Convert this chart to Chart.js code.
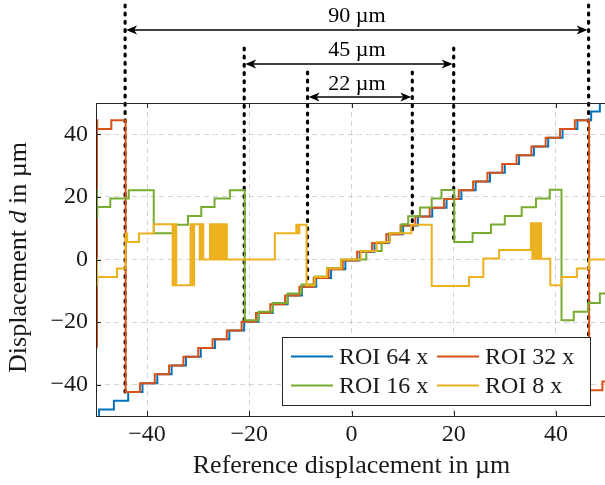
<!DOCTYPE html>
<html>
<head>
<meta charset="utf-8">
<script src="https://cdn.jsdelivr.net/npm/chart.js@4.4.1/dist/chart.umd.min.js"></script>
<style>
  html, body { margin: 0; padding: 0; background: #fff; overflow: hidden; }
  #wrap { width: 605px; height: 485px; overflow: hidden; }
</style>
</head>
<body>
<div id="wrap"><canvas id="chart" width="607" height="485"></canvas></div>
<script>
const seriesNames = ['ROI 64 x', 'ROI 32 x', 'ROI 16 x', 'ROI 8 x'];
const seriesColors = ['#0072BD', '#D95319', '#77AC30', '#EDB120'];

const roi64X = [-50, -49.4, -46.5,
  -43.7, -40.9, -38.0, -35.2, -32.4, -29.5, -26.7, -23.9, -21.0, -18.2,
  -15.4, -12.5, -9.7, -6.9, -4.0, -1.2, 1.6, 4.5, 7.3, 10.1,
  13.0, 15.8, 18.6, 21.5, 24.3, 27.1, 30.0, 32.8, 35.7, 38.5,
  41.3, 44.2, 46.9, 48.6, 50];
const roi64Y = [-50.7, -47.9, -45.1,
  -42.3, -39.5, -36.7, -33.9, -31.1, -28.3, -25.5, -22.7, -19.9, -17.1,
  -14.3, -11.5, -8.7, -5.9, -3.1, -0.3, 2.5, 5.3, 8.1, 10.9,
  13.7, 16.5, 19.3, 22.1, 24.9, 27.7, 30.5, 33.3, 36.1, 38.9,
  41.7, 44.5, 47.3, 50.1, 50.1];

const roi32X = [-49.85, -49.8, -49.75, -47.0,
  -44.2, -41.4, -38.5, -35.7, -32.9, -30.0, -27.2, -24.4, -21.5, -18.7,
  -15.9, -13.0, -10.2, -7.4, -4.5, -1.7, 1.1, 4.0, 6.8, 9.6,
  12.5, 15.3, 18.1, 21.0, 23.8, 26.6, 29.5, 32.3, 35.2, 38.0,
  40.8, 43.7, 46.5, 49.1, 50];
const roi32Y = [-28.0, 44.5, 41.7, 44.5,
  -42.3, -39.5, -36.7, -33.9, -31.1, -28.3, -25.5, -22.7, -19.9, -17.1,
  -14.3, -11.5, -8.7, -5.9, -3.1, -0.3, 2.5, 5.3, 8.1, 10.9,
  13.7, 16.5, 19.3, 22.1, 24.9, 27.7, 30.5, 33.3, 36.1, 38.9,
  41.7, 44.5, -41.8, -39.0, -39.0];

const roi16X = [-49.85, -49.8, -49.75, -47.2, -43.6, -38.7, -34.8, -32.0, -29.4, -26.8, -23.8,
  -20.9, -18.2, -15.4, -12.5, -9.8, -7.2, -4.8, -2.0, 2.9, 5.9, 7.5, 9.8, 11.1, 13.4, 15.7, 17.6,
  20.1, 23.7, 27.3, 30.0, 33.3, 36.1, 38.8, 41.1, 43.5, 46.3, 48.6, 50];
const roi16Y = [22.1, 13.6, 16.8, 19.5, 22.1, 8.4, 11.1, 13.9, 16.8, 19.5, 22.1,
  -19.4, -16.7, -13.9, -10.9, -8.0, -5.4, -2.7, 0.0, 2.7, 5.6, 8.5, 11.3, 13.8, 16.6, 19.5, 22.2,
  5.6, 8.5, 11.2, 13.9, 16.7, 19.5, 22.3, -19.4, -16.7, -13.9, -10.9, -10.9];

const roi8X = [-49.85, -49.8, -49.75, -45.9, -44.2, -43.9, -41.6, -38.7,
  -35.0, -34.6, -34.3, -31.5, -31.1, -30.8, -29.7, -29.4, -29.0,
  -27.7, -27.4, -27.1, -26.8, -26.5, -26.2, -25.9, -25.6, -25.3, -25.0, -24.7, -24.4,
  -15.0, -10.8, -10.5, -10.2, -8.8, -7.2, -4.8, -2.0, 1.8, 4.9, 7.5, 11.7, 15.7,
  23.0, 25.8, 28.9, 35.1, 35.4, 35.7, 36.0, 36.3, 36.6, 36.9, 37.1, 38.9, 41.1, 44.1, 46.5, 50];
const roi8Y = [0.0, -8.2, -5.6, -2.9, 8.3, 5.6, 8.3, 11.3,
  -8.2, 11.3, -8.2, 11.3, -8.2, 11.3, 0.0, 11.3, 0.0,
  11.3, 0.0, 11.3, 0.0, 11.3, 0.0, 11.3, 0.0, 11.3, 0.0, 11.3, 0.0,
  8.4, 11.1, 8.4, 11.1, -8.2, -5.6, -2.9, 0.0, 2.7, 5.6, 8.4, 11.1, -8.5,
  -5.6, 0.3, 3.0, 11.6, 0.2, 11.6, 0.2, 11.6, 0.2, 11.6, 0.2, -8.2, -5.6, -2.9, 0.0, 0.0];

const xTicks = [-40, -20, 0, 20, 40];
const yTicks = [-40, -20, 0, 20, 40];

// span annotations (window widths)
const spanLabels = ['90 \u00b5m', '45 \u00b5m', '22 \u00b5m'];
const spanFrom = [-44.3, -21.0, -8.6];
const spanTo = [46.4, 20.0, 11.9];
const spanFromEnd = [-42.3, -19.4, -8.2];
const spanToEnd = [-42.3, 5.6, 8.3];

const FONT = "'Liberation Serif', 'Times New Roman', serif";
const INK = '#1a1a1a';
const fmt = v => String(v).replace('-', '\u2212');
const pts = (xs, ys) => xs.map((x, i) => ({ x: x, y: ys[i] }));

function arrowHead(ctx, x, y, dir) {
  ctx.beginPath();
  ctx.moveTo(x, y);
  ctx.lineTo(x - dir * 11, y - 4.5);
  ctx.lineTo(x - dir * 8, y);
  ctx.lineTo(x - dir * 11, y + 4.5);
  ctx.closePath();
  ctx.fill();
}

const TOP_Y = [5, 48, 72];
const ARROW_Y = [30, 64, 97];
const LABEL_Y = [16, 50, 84];

const decor = {
  id: 'decor',
  beforeDatasetsDraw(chart) {
    // dotted window markers sit under the data lines
    const ctx = chart.ctx;
    const sx = chart.scales.x, sy = chart.scales.y;
    ctx.save();
    ctx.strokeStyle = '#000';
    ctx.lineWidth = 3.2;
    ctx.lineCap = 'round';
    ctx.setLineDash([1.8, 6.4]);
    ctx.beginPath();
    for (let i = 0; i < spanLabels.length; i++) {
      const xl = sx.getPixelForValue(spanFrom[i]);
      const xr = sx.getPixelForValue(spanTo[i]);
      ctx.moveTo(xl, TOP_Y[i]); ctx.lineTo(xl, sy.getPixelForValue(spanFromEnd[i]));
      ctx.moveTo(xr, TOP_Y[i]); ctx.lineTo(xr, sy.getPixelForValue(spanToEnd[i]));
    }
    ctx.stroke();
    ctx.restore();
  },
  afterDatasetsDraw(chart) {
    const ctx = chart.ctx;
    const a = chart.chartArea;
    const sx = chart.scales.x, sy = chart.scales.y;
    ctx.save();

    // axes box + inward ticks
    ctx.strokeStyle = '#262626';
    ctx.lineWidth = 1;
    ctx.strokeRect(a.left + 0.5, a.top + 0.5, a.right - a.left - 1, a.bottom - a.top);
    ctx.beginPath();
    xTicks.forEach(v => {
      const px = Math.round(sx.getPixelForValue(v)) + 0.5;
      ctx.moveTo(px, a.bottom); ctx.lineTo(px, a.bottom - 5);
      ctx.moveTo(px, a.top); ctx.lineTo(px, a.top + 5);
    });
    yTicks.forEach(v => {
      const py = Math.round(sy.getPixelForValue(v)) + 0.5;
      ctx.moveTo(a.left, py); ctx.lineTo(a.left + 5, py);
    });
    ctx.stroke();

    // arrows and labels of the window markers
    ctx.fillStyle = '#000';
    ctx.strokeStyle = '#000';
    for (let i = 0; i < spanLabels.length; i++) {
      const xl = sx.getPixelForValue(spanFrom[i]);
      const xr = sx.getPixelForValue(spanTo[i]);
      ctx.lineWidth = 1.5;
      ctx.beginPath();
      ctx.moveTo(xl + 4, ARROW_Y[i]); ctx.lineTo(xr - 4, ARROW_Y[i]);
      ctx.stroke();
      arrowHead(ctx, xl + 1, ARROW_Y[i], -1);
      arrowHead(ctx, xr - 1, ARROW_Y[i], 1);

      ctx.font = '22px ' + FONT;
      ctx.textAlign = 'center';
      ctx.textBaseline = 'middle';
      ctx.fillText(spanLabels[i], 357, LABEL_Y[i]);
    }

    // legend box
    const lx = 282.5, ly = 337.5, lw = 308, lh = 68;
    ctx.fillStyle = '#fff';
    ctx.fillRect(lx, ly, lw, lh);
    ctx.strokeStyle = '#262626';
    ctx.lineWidth = 1;
    ctx.strokeRect(lx, ly, lw, lh);
    const colX = [291, 437];
    const rowY = [356.5, 385.5];
    ctx.font = '24px ' + FONT;
    ctx.textAlign = 'left';
    ctx.textBaseline = 'middle';
    seriesNames.forEach((name, i) => {
      const cx = colX[i % 2], cy = rowY[Math.floor(i / 2)];
      ctx.strokeStyle = seriesColors[i];
      ctx.lineWidth = 2;
      ctx.beginPath();
      ctx.moveTo(cx, cy); ctx.lineTo(cx + 42, cy);
      ctx.stroke();
      ctx.fillStyle = INK;
      ctx.fillText(name, cx + 48, cy + 1);
    });

    // y axis title with italic d
    ctx.save();
    ctx.translate(19, (a.top + a.bottom) / 2 - 2);
    ctx.rotate(-Math.PI / 2);
    ctx.fillStyle = INK;
    ctx.textBaseline = 'middle';
    const parts = [['Displacement ', ''], ['d', 'italic '], [' in \u00b5m', '']];
    let total = 0;
    parts.forEach(p => { ctx.font = p[1] + '26px ' + FONT; total += ctx.measureText(p[0]).width; });
    let tx = -total / 2;
    ctx.textAlign = 'left';
    parts.forEach(p => {
      ctx.font = p[1] + '26px ' + FONT;
      ctx.fillText(p[0], tx, 0);
      tx += ctx.measureText(p[0]).width;
    });
    ctx.restore();

    ctx.restore();
  }
};

const makeSet = (i, xs, ys, order) => ({
  label: seriesNames[i],
  data: pts(xs, ys),
  borderColor: seriesColors[i],
  borderWidth: 2,
  stepped: true,
  pointRadius: 0,
  fill: false,
  clip: 0,
  order: order
});

new Chart(document.getElementById('chart'), {
  type: 'line',
  data: {
    datasets: [
      makeSet(0, roi64X, roi64Y, 3),
      makeSet(1, roi32X, roi32Y, 2),
      makeSet(2, roi16X, roi16Y, 1),
      makeSet(3, roi8X, roi8Y, 0)
    ]
  },
  options: {
    responsive: false,
    animation: false,
    devicePixelRatio: 1,
    layout: { padding: { top: 103, right: 0, bottom: 0, left: 0 } },
    plugins: { legend: { display: false }, tooltip: { enabled: false } },
    scales: {
      x: {
        type: 'linear', min: -50, max: 50,
        afterBuildTicks: s => { s.ticks = xTicks.map(v => ({ value: v })); },
        afterFit: s => { s.height = 69; },
        grid: { color: 'rgba(0,0,0,0.17)', lineWidth: 1, drawTicks: false },
        border: { display: false, dash: [5, 4] },
        ticks: { color: INK, font: { family: FONT, size: 24 }, padding: 4, maxRotation: 0, callback: v => fmt(v) },
        title: { display: true, text: 'Reference displacement in \u00b5m', color: INK, font: { family: FONT, size: 26 }, padding: { top: 0, bottom: 3 } }
      },
      y: {
        type: 'linear', min: -50, max: 50,
        afterBuildTicks: s => { s.ticks = yTicks.map(v => ({ value: v })); },
        afterFit: s => { s.width = 96; },
        grid: { color: 'rgba(0,0,0,0.17)', lineWidth: 1, drawTicks: false },
        border: { display: false, dash: [5, 4] },
        ticks: { color: INK, font: { family: FONT, size: 24 }, padding: 8, callback: v => fmt(v) }
      }
    }
  },
  plugins: [decor]
});
</script>
</body>
</html>
